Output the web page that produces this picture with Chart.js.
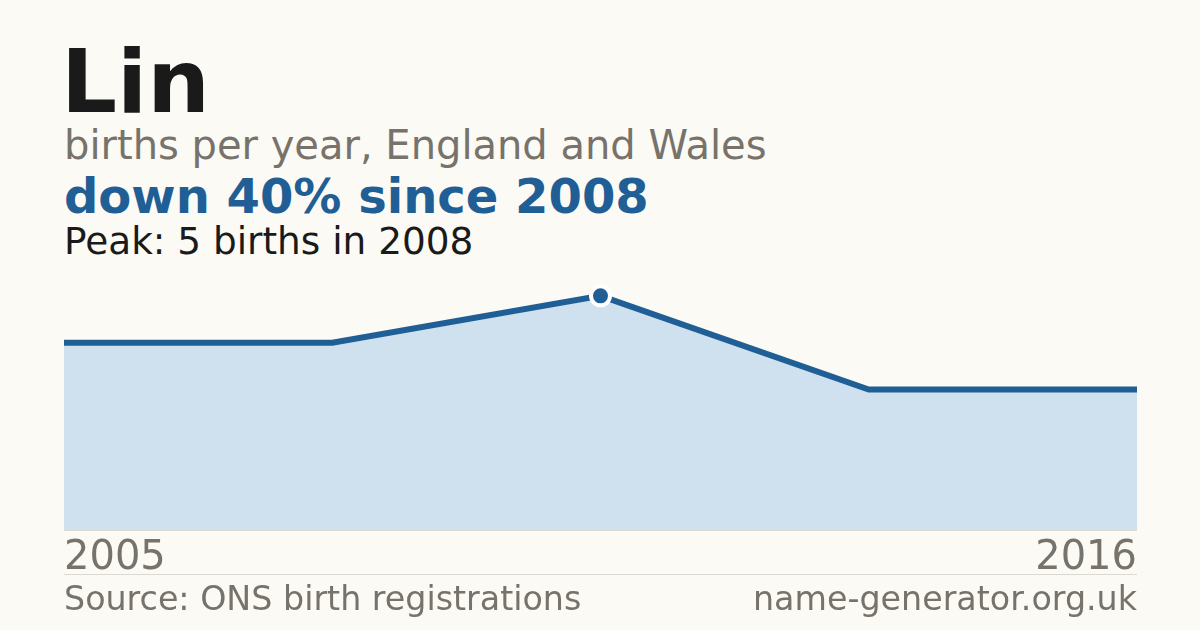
<!DOCTYPE html>
<html>
<head>
<meta charset="utf-8">
<script src="https://cdn.jsdelivr.net/npm/chart.js@4.4.1/dist/chart.umd.min.js"></script>
<style>
  html, body { margin: 0; padding: 0; }
  body { width: 1200px; height: 630px; background: #fbfaf5; position: relative; overflow: hidden;
         font-family: 'DejaVu Sans', sans-serif; }
  .t { position: absolute; left: 64px; white-space: nowrap; line-height: 1; }
  #name { left: 61px; top: 38px; font-size: 88px; font-weight: bold; color: #1a1a1a; }
  #sub { top: 125px; font-size: 40px; color: #77736b; }
  #change { top: 172px; font-size: 48px; font-weight: bold; color: #1f5f96; }
  #peak { top: 223px; font-size: 37.4px; color: #1a1a1a; }
  #rule { position: absolute; left: 64px; top: 574px; width: 1073px; height: 1px; background: #dcd9d2; }
  #source { top: 582px; font-size: 33.3px; color: #77736b; }
  #site { left: auto; right: 63px; top: 582px; font-size: 33.3px; color: #77736b; }
  #wrap { position: absolute; left: 64px; top: 249px; width: 1073px; height: 334px; }
</style>
</head>
<body>
<div class="t" id="name">Lin</div>
<div class="t" id="sub">births per year, England and Wales</div>
<div class="t" id="change">down 40% since 2008</div>
<div class="t" id="peak">Peak: 5 births in 2008</div>
<div id="wrap"><canvas id="births"></canvas></div>
<div id="rule"></div>
<div class="t" id="source">Source: ONS birth registrations</div>
<div class="t" id="site">name-generator.org.uk</div>
<script>
// data
const years = ['2005', '2007', '2008', '2012', '2016'];
const births = [4, 4, 5, 3, 3];

const blue = '#1f5f96';
const fillBlue = '#cfe0ef';
const grey = '#77736b';
const peak = Math.max(...births);

new Chart(document.getElementById('births'), {
  type: 'line',
  data: {
    labels: years,
    datasets: [{
      data: births,
      borderColor: blue,
      borderWidth: 6,
      backgroundColor: fillBlue,
      fill: 'origin',
      tension: 0,
      // only the peak year gets a marker
      pointRadius: ctx => ctx.raw === peak ? 9.5 : 0,
      pointBackgroundColor: blue,
      pointBorderColor: '#ffffff',
      pointBorderWidth: 4,
      clip: 14
    }]
  },
  options: {
    responsive: true,
    maintainAspectRatio: false,
    animation: false,
    layout: { padding: 0, autoPadding: false },
    plugins: { legend: { display: false }, tooltip: { enabled: false } },
    scales: {
      x: {
        offset: false,
        grid: { display: false, drawTicks: true, tickLength: 5 },
        border: { display: true, color: '#dcd9d2', width: 1 },
        ticks: {
          autoSkip: false,
          maxRotation: 0,
          align: 'inner',
          padding: 0,
          color: grey,
          font: { family: 'DejaVu Sans', size: 40 },
          callback: (v, i, t) => (i === 0 || i === t.length - 1) ? years[i] : ''
        }
      },
      y: { display: false, min: 0, max: 6 }
    }
  }
});
</script>
</body>
</html>
